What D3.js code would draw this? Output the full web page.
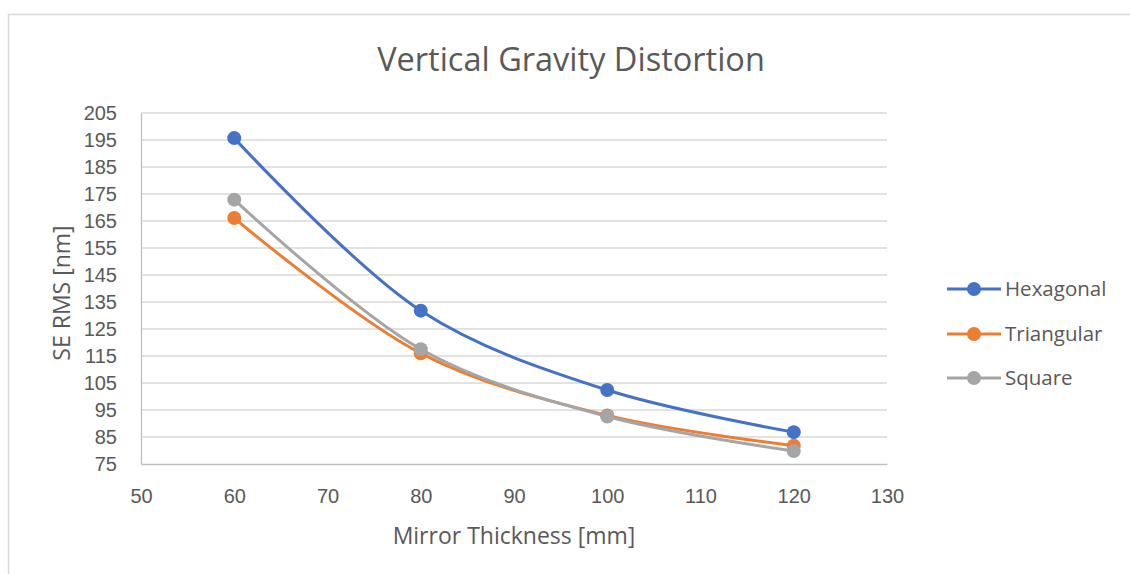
<!DOCTYPE html>
<html>
<head>
<meta charset="utf-8">
<script src="https://cdn.jsdelivr.net/npm/d3@7"></script>
<style>
  html, body { margin: 0; padding: 0; background: #fff; }
  svg { display: block; font-family: "Open Sans", "Noto Sans", sans-serif; }
</style>
</head>
<body>
<svg id="chart" width="1130" height="574"></svg>
<script>
// Mirror thickness [mm] and SE RMS [nm] for each support pattern
const thickness = [60, 80, 100, 120];
const hexagonal = [195.7, 131.8, 102.4, 86.8];
const triangular = [166.1, 116.0, 93.0, 81.8];
const square = [172.9, 117.5, 92.6, 79.8];

const seriesNames = ["Hexagonal", "Triangular", "Square"];
const seriesColors = ["#4472C4", "#ED7D31", "#A5A5A5"];
const seriesValues = [hexagonal, triangular, square];

const xTicks = [50, 60, 70, 80, 90, 100, 110, 120, 130];
const yTicks = [75, 85, 95, 105, 115, 125, 135, 145, 155, 165, 175, 185, 195, 205];

const svg = d3.select("#chart");
const textColor = "#595959";

// Chart frame
svg.append("path")
  .attr("d", "M8.5,574 V14.5 H1130")
  .attr("fill", "none")
  .attr("stroke", "#d9d9d9")
  .attr("stroke-width", 1.5);

const plot = { left: 141, right: 887, top: 113, bottom: 464 };

const x = d3.scaleLinear().domain([50, 130]).range([plot.left, plot.right]);
const y = d3.scaleLinear().domain([75, 205]).range([plot.bottom, plot.top]);

// Horizontal gridlines
svg.append("g")
  .selectAll("line")
  .data(yTicks.slice(1))
  .join("line")
  .attr("x1", plot.left).attr("x2", plot.right)
  .attr("y1", d => y(d)).attr("y2", d => y(d))
  .attr("stroke", "#d9d9d9").attr("stroke-width", 1.3);

// Axes
const yAxis = svg.append("g")
  .attr("transform", `translate(${plot.left},0)`)
  .call(d3.axisLeft(y).tickValues(yTicks).tickSize(0).tickPadding(24));
yAxis.select(".domain").attr("stroke", "#bfbfbf").attr("stroke-width", 1.3);
yAxis.selectAll("text").attr("fill", textColor).style("font-size", "20px");

const xAxis = svg.append("g")
  .attr("transform", `translate(0,${plot.bottom})`)
  .call(d3.axisBottom(x).tickValues(xTicks).tickSize(0).tickPadding(25));
xAxis.select(".domain").attr("stroke", "#bfbfbf").attr("stroke-width", 1.3);
xAxis.selectAll("text").attr("fill", textColor).style("font-size", "20px");

// Titles
svg.append("text")
  .attr("x", 571).attr("y", 71)
  .attr("text-anchor", "middle")
  .attr("fill", textColor)
  .style("font-size", "32.5px")
  .text("Vertical Gravity Distortion");

svg.append("text")
  .attr("x", 514).attr("y", 544)
  .attr("text-anchor", "middle")
  .attr("fill", textColor)
  .style("font-size", "23px")
  .text("Mirror Thickness [mm]");

svg.append("text")
  .attr("transform", "translate(70,293) rotate(-90)")
  .attr("text-anchor", "middle")
  .attr("fill", textColor)
  .style("font-size", "23px")
  .text("SE RMS [nm]");

// Smoothed series lines and markers
const line = d3.line()
  .x(d => x(d[0]))
  .y(d => y(d[1]))
  .curve(d3.curveCatmullRom.alpha(0.5));

seriesValues.forEach((vals, i) => {
  const pts = thickness.map((t, j) => [t, vals[j]]);
  const g = svg.append("g");
  g.append("path")
    .datum(pts)
    .attr("d", line)
    .attr("fill", "none")
    .attr("stroke", seriesColors[i])
    .attr("stroke-width", 3)
    .attr("stroke-linejoin", "round");
  g.selectAll("circle")
    .data(pts)
    .join("circle")
    .attr("cx", d => x(d[0]))
    .attr("cy", d => y(d[1]))
    .attr("r", 7)
    .attr("fill", seriesColors[i]);
});

// Legend
const legend = svg.append("g");
const legendY = [289, 334, 378];
seriesNames.forEach((name, i) => {
  const g = legend.append("g").attr("transform", `translate(0,${legendY[i]})`);
  g.append("line")
    .attr("x1", 947).attr("x2", 1001)
    .attr("stroke", seriesColors[i]).attr("stroke-width", 3);
  g.append("circle")
    .attr("cx", 974).attr("r", 7)
    .attr("fill", seriesColors[i]);
  g.append("text")
    .attr("x", 1005).attr("y", 0)
    .attr("dy", "0.35em")
    .attr("fill", textColor)
    .style("font-size", "20.5px")
    .text(name);
});
</script>
</body>
</html>
